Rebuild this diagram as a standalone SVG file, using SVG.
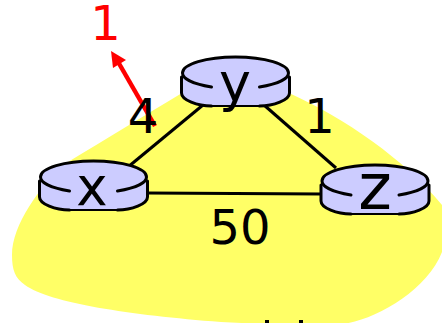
<svg xmlns="http://www.w3.org/2000/svg" width="442" height="323" viewBox="0 0 442 323">
<style>
.t{font-family:"DejaVu Sans",sans-serif;font-size:48px;fill:#000}
.body{fill:#ccf;stroke:none}
.o{fill:none;stroke:#000;stroke-width:3;stroke-linecap:round}
.m{fill:none;stroke:#000;stroke-width:2}
.link{stroke:#000;stroke-width:3;fill:none}
</style>
<defs>
<g id="router">
<path class="body" d="M-53,0A53,16 0 0 1 53,0L54,4V20C54,27 38,33 24,33H-24C-38,33 -54,27 -54,20V4Z"/>
<path class="o" d="M-24,14C-42,11 -53,6 -53,0C-53,-9 -29,-16 0,-16C29,-16 53,-9 53,0C53,6 42,11 24,14"/>
<path class="o" d="M-54,4V20C-54,27 -38,33 -24,33M24,33C38,33 54,27 54,20V4"/>
<path class="m" d="M-24,33H24"/>
</g>
</defs>
<path id="region" fill="#ff6" d="M182,93C145,115 105,140 68,162C40,185 12,225 12,255C12,270 15,278 25,285C50,303 130,315 221,322L262,324H331C360,328 425,296 442,252V205C405,160 345,118 289,93Z"/>
<g id="connectors">
<line class="link" x1="203" y1="105" x2="128" y2="167"/>
<line class="link" x1="264" y1="105" x2="336" y2="168"/>
<line class="link" x1="147" y1="193" x2="322" y2="194"/>
<line x1="155" y1="126" x2="117" y2="60" stroke="#f00" stroke-width="4.5"/>
<polygon points="111,51 126,60 113,68" fill="#f00"/>
</g>
<g id="node-y"><use href="#router" x="235.5" y="73"/><text x="235" y="101" text-anchor="middle" class="t" style="font-size:54px">y</text></g>
<g id="node-x"><use href="#router" x="93.5" y="177"/><text x="92" y="205" text-anchor="middle" class="t" style="font-size:53px">x</text></g>
<g id="node-z"><use href="#router" x="375" y="181"/><text x="375" y="209" text-anchor="middle" class="t" style="font-size:64px">z</text></g>
<text class="t" x="143" y="133" text-anchor="middle">4</text>
<text class="t" x="319.500" y="133" text-anchor="middle">1</text>
<text class="t" x="240" y="244" text-anchor="middle">50</text>
<text class="t" x="105.500" y="40" text-anchor="middle" style="fill:#f00">1</text>
<g id="cropped-marks" fill="#000"><rect x="265" y="320" width="4" height="3"/><rect x="299" y="320" width="4" height="3"/></g>
</svg>
